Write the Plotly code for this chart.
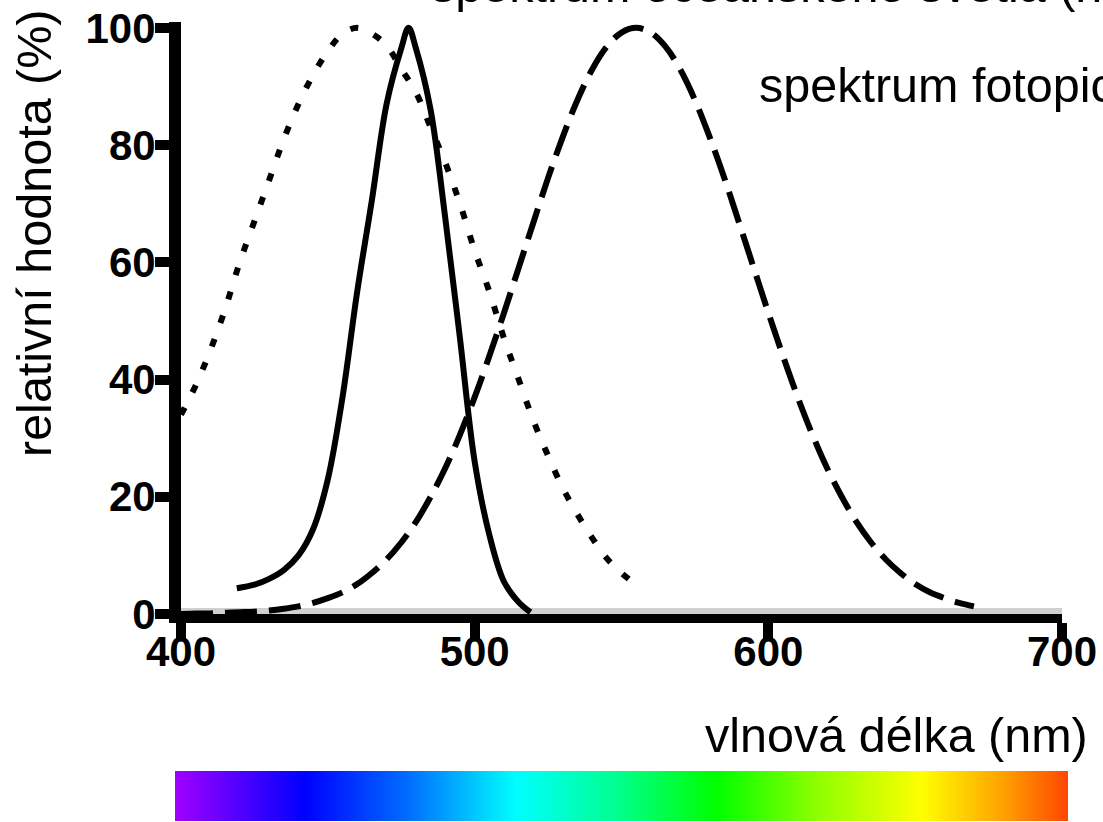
import numpy as np
import plotly.graph_objects as go

# ---- data ----
ocean_nm = [400, 405, 410, 415, 420, 425, 430, 435, 440, 445, 450, 455, 460, 465, 470,
            475, 480, 485, 490, 495, 500, 505, 510, 515, 520, 525, 530, 535, 540, 545, 550, 555]
ocean_val = [34, 39, 45, 52, 60, 67, 74, 81, 87, 92, 96, 99, 100, 99, 97,
             93, 89, 83, 77, 70, 62, 55, 47, 40, 33, 27, 21.5, 17, 13, 9.5, 7, 5]

rod_nm = [419, 425, 430, 435, 440, 445, 450, 455, 460, 465, 470, 475, 477.5,
          480, 485, 490, 495, 500, 505, 510, 515, 519]
rod_val = [4.4, 5.0, 6.0, 7.5, 10, 14.5, 23, 37, 55, 70.6, 87, 96.5, 100,
           96.5, 86, 67.5, 47, 26, 13.5, 5.5, 2, 0.3]

photopic_nm = [400, 405, 410, 415, 420, 425, 430, 435, 440, 445, 450, 455, 460, 465, 470,
               475, 480, 485, 490, 495, 500, 505, 510, 515, 520, 525, 530, 535, 540, 545,
               550, 555, 560, 565, 570, 575, 580, 585, 590, 595, 600, 605, 610, 615, 620,
               625, 630, 635, 640, 645, 650, 655, 660, 665, 670]
photopic_val = [0.0, 0.1, 0.1, 0.2, 0.3, 0.4, 0.6, 0.9, 1.3, 1.9, 2.7, 3.7, 5.1, 7.0, 9.3,
                12.2, 15.7, 20, 24.9, 30.6, 37, 44, 51.4, 59.1, 66.8, 74.4, 81.4, 87.7, 92.9, 96.8,
                99.2, 100, 99.2, 96.8, 92.9, 87.7, 81.4, 74.4, 66.8, 59.1, 51.4, 44, 37, 30.6, 24.9,
                20, 15.7, 12.2, 9.3, 7.0, 5.1, 3.7, 2.7, 1.9, 1.3]

x_ticks = [400, 500, 600, 700]
y_ticks = [0, 20, 40, 60, 80, 100]

spectrum_stops_nm = [398, 442, 478, 514, 548, 582, 617, 652, 680, 702]
spectrum_colors = ["#a000ff", "#0000ff", "#0070ff", "#00ffff", "#00ff90", "#00ff00",
                   "#90ff00", "#ffff00", "#ffa000", "#ff4500"]

x_title = "vlnová délka (nm)"
y_title = "relativní hodnota (%)"
label_ocean = "spektrum oceánského světla (nm)"
label_photopic = "spektrum fotopického vidění"

# ---- layout geometry ----
W, H = 1103, 822
ML, MR, MT, MB = 175, 35, 22, 1
PW, PH = W - ML - MR, H - MT - MB


def px(xp):
    return (xp - ML) / PW


def py(yp):
    return (H - MB - yp) / PH


text_font = dict(family="Arial, Liberation Sans, sans-serif", size=48.5, color="black")
tick_font = dict(family="Arial, Liberation Sans, sans-serif",
                 size=42, color="black", weight="bold")

fig = go.Figure()

line_w = 6
fig.add_trace(go.Scatter(x=ocean_nm, y=ocean_val, mode="lines", line_shape="spline",
                         line=dict(color="black", width=line_w, dash="8px,17px"),
                         showlegend=False, hoverinfo="skip"))
fig.add_trace(go.Scatter(x=rod_nm, y=rod_val, mode="lines", line_shape="spline",
                         line=dict(color="black", width=line_w),
                         showlegend=False, hoverinfo="skip"))
fig.add_trace(go.Scatter(x=photopic_nm, y=photopic_val, mode="lines", line_shape="spline",
                         line=dict(color="black", width=line_w, dash="32px,12px"),
                         showlegend=False, hoverinfo="skip"))

# colour spectrum bar
lo, hi = spectrum_stops_nm[0], spectrum_stops_nm[-1]
cscale = [[(s - lo) / (hi - lo), c] for s, c in zip(spectrum_stops_nm, spectrum_colors)]
bar_x = np.linspace(lo, hi, 400)
fig.add_trace(go.Heatmap(x=bar_x, y=[0, 1], z=[bar_x, bar_x], colorscale=cscale,
                         zmin=lo, zmax=hi, showscale=False, zsmooth="best",
                         xaxis="x2", yaxis="y2", hoverinfo="skip"))

x_dom0, x_dom1 = px(181), px(1062)
fig.update_layout(
    template="none",
    width=W, height=H, autosize=False,
    margin=dict(l=ML, r=MR, t=MT, b=MB, pad=0, autoexpand=False),
    paper_bgcolor="white", plot_bgcolor="rgba(0,0,0,0)",
    xaxis=dict(domain=[x_dom0, x_dom1], range=[400, 700], tickvals=x_ticks,
               showgrid=False, zeroline=False, showline=True, linecolor="black",
               linewidth=9, ticks="outside", ticklen=18, tickwidth=10, tickcolor="black",
               tickfont=tick_font, ticklabelstandoff=-25, anchor="y", automargin=False),
    yaxis=dict(domain=[py(614), 1], range=[0, 101], tickvals=y_ticks,
               showgrid=False, zeroline=False, showline=True, linecolor="black",
               linewidth=12, ticks="outside", ticklen=14, tickwidth=10, tickcolor="black",
               tickfont=tick_font, ticklabelstandoff=-9, anchor="x", automargin=False),
    xaxis2=dict(domain=[0, 1], range=[lo, hi], visible=False, anchor="y2", automargin=False),
    yaxis2=dict(domain=[0, py(771)], range=[0, 1], visible=False, anchor="x2", automargin=False),
    shapes=[
        dict(type="rect", xref="x domain", yref="y", x0=0, x1=1, ysizemode="pixel",
             yanchor=0, y0=-8, y1=6, fillcolor="#d0d0d0", line=dict(width=0), layer="below"),
        dict(type="rect", xref="x domain", yref="y", x0=0, x1=1, ysizemode="pixel",
             yanchor=0, y0=-8, y1=-3, fillcolor="#a0a0a0", line=dict(width=0), layer="below"),
    ],
    annotations=[
        dict(text=y_title, xref="paper", yref="paper", x=px(34), y=py(233),
             textangle=-90, showarrow=False, font=text_font,
             xanchor="center", yanchor="middle"),
        dict(text=x_title, xref="paper", yref="paper", x=px(1090), y=py(735),
             showarrow=False, font=text_font, xanchor="right", yanchor="middle"),
        dict(text=label_photopic, xref="paper", yref="paper", x=px(757), y=py(85),
             showarrow=False, font=text_font, xanchor="left", yanchor="middle"),
        dict(text=label_ocean, xref="paper", yref="paper", x=px(429), y=py(-15),
             showarrow=False, font=text_font, xanchor="left", yanchor="middle"),
    ],
)

fig.write_html(
    "out.html",
    config={"responsive": False, "displayModeBar": False},
    post_script="document.body.style.margin='0px';document.body.style.overflow='hidden';",
)
